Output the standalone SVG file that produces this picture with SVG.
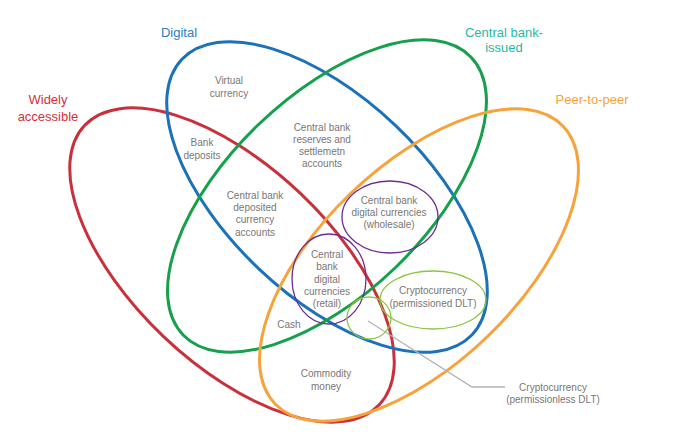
<svg xmlns="http://www.w3.org/2000/svg" width="695" height="441" viewBox="0 0 695 441">
<style>
.big{fill:none;stroke-width:3}
.thin{fill:none;stroke-width:1.3}
.lbl{font-family:"Liberation Sans",Arial,sans-serif;font-size:10px;fill:#7a7674;text-anchor:middle}
.ttl{font-family:"Liberation Sans",Arial,sans-serif;font-size:13px;text-anchor:middle}
</style>
<rect width="695" height="441" fill="#fff"/>
<g id="widely-accessible">
<ellipse class="big" stroke="#c9303b" cx="232" cy="265" rx="203" ry="99" transform="rotate(43.5 232 265)"/>
<text class="ttl" fill="#d42f3c" x="48" y="104">Widely</text>
<text class="ttl" fill="#d42f3c" x="48" y="121">accessible</text>
</g>
<g id="digital">
<ellipse class="big" stroke="#1b72b9" cx="327" cy="197" rx="200" ry="99" transform="rotate(43.5 327 197)"/>
<text class="ttl" fill="#2a7dc2" x="179" y="37">Digital</text>
</g>
<g id="central-bank-issued">
<ellipse class="big" stroke="#17a04b" cx="327" cy="196" rx="200" ry="99" transform="rotate(-44 327 196)"/>
<text class="ttl" fill="#2bb5a6" x="504" y="37">Central bank-</text>
<text class="ttl" fill="#2bb5a6" x="504" y="52">issued</text>
</g>
<g id="peer-to-peer">
<ellipse class="big" stroke="#f7a33c" cx="419" cy="265" rx="200" ry="99" transform="rotate(-44 419 265)"/>
<text class="ttl" fill="#f7a33c" x="592" y="104">Peer-to-peer</text>
</g>
<g id="cbdc-wholesale">
<ellipse class="thin" stroke="#6c2d91" cx="390" cy="217" rx="48" ry="36"/>
<text class="lbl" x="389" y="204">Central bank</text>
<text class="lbl" x="389" y="216">digital currencies</text>
<text class="lbl" x="389" y="228">(wholesale)</text>
</g>
<g id="cbdc-retail">
<ellipse class="thin" stroke="#6c2d91" cx="329" cy="279" rx="37" ry="45"/>
<text class="lbl" x="327" y="258">Central</text>
<text class="lbl" x="327" y="270">bank</text>
<text class="lbl" x="327" y="283">digital</text>
<text class="lbl" x="327" y="295">currencies</text>
<text class="lbl" x="327" y="307">(retail)</text>
</g>
<g id="crypto-permissioned">
<ellipse class="thin" stroke="#8cc63f" cx="433" cy="300" rx="53" ry="29"/>
<text class="lbl" x="433" y="294">Cryptocurrency</text>
<text class="lbl" x="433" y="307">(permissioned DLT)</text>
</g>
<g id="crypto-permissionless">
<ellipse class="thin" stroke="#8cc63f" cx="369" cy="318" rx="22" ry="21"/>
<text class="lbl" x="553" y="391">Cryptocurrency</text>
<text class="lbl" x="553" y="403">(permissionless DLT)</text>
</g>
<g id="connectors">
<polyline points="368,321 472,387 505,387" fill="none" stroke="#b3b3b3" stroke-width="1.3"/>
</g>
<g id="labels">
<text class="lbl" x="229" y="84">Virtual</text>
<text class="lbl" x="229" y="97">currency</text>
<text class="lbl" x="202" y="146">Bank</text>
<text class="lbl" x="202" y="159">deposits</text>
<text class="lbl" x="322" y="131">Central bank</text>
<text class="lbl" x="322" y="143">reserves and</text>
<text class="lbl" x="322" y="155">settlemetn</text>
<text class="lbl" x="322" y="167">accounts</text>
<text class="lbl" x="255" y="199">Central bank</text>
<text class="lbl" x="255" y="211">deposited</text>
<text class="lbl" x="255" y="223">currency</text>
<text class="lbl" x="255" y="236">accounts</text>
<text class="lbl" x="289" y="328">Cash</text>
<text class="lbl" x="326" y="377">Commodity</text>
<text class="lbl" x="326" y="390">money</text>
</g>
</svg>
